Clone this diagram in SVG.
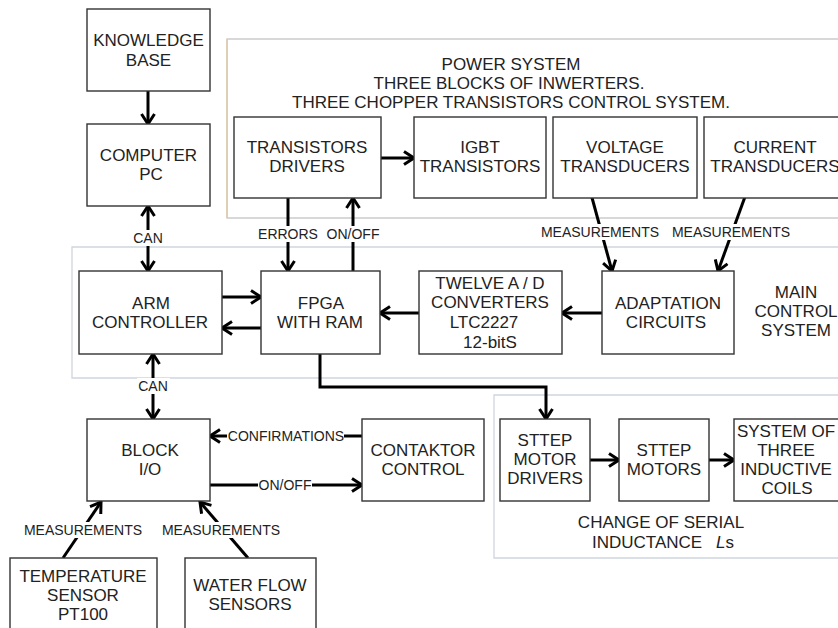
<svg xmlns="http://www.w3.org/2000/svg" width="838" height="628" viewBox="0 0 838 628">
<defs>
<style>
.box{fill:#fff;stroke:#333;stroke-width:1.4}
.t{font-family:"Liberation Sans",Arial,sans-serif;font-size:17px;fill:#222;text-anchor:middle}
.l{font-family:"Liberation Sans",Arial,sans-serif;font-size:14px;fill:#222;text-anchor:middle}
.c{fill:none;stroke:#000;stroke-width:3}
.bg{fill:#fff}
</style>
<marker id="ah" markerUnits="userSpaceOnUse" viewBox="0 0 14 16" markerWidth="14" markerHeight="16" refX="12" refY="8" orient="auto">
<path d="M2,1.5 L12,8 L2,14.5" fill="none" stroke="#000" stroke-width="3"/>
</marker>
<marker id="as" markerUnits="userSpaceOnUse" viewBox="0 0 14 16" markerWidth="14" markerHeight="16" refX="12" refY="8" orient="auto-start-reverse">
<path d="M2,1.5 L12,8 L2,14.5" fill="none" stroke="#000" stroke-width="3"/>
</marker>
</defs>
<rect width="838" height="628" fill="#fff"/>

<g id="frames">
<path d="M850,39 H227 V218 H850" fill="none" stroke="#cccccc" stroke-width="1.3"/>
<line x1="227" y1="39" x2="227" y2="218" stroke="#e2c8a4" stroke-width="1.3"/>
<path d="M850,247 H72 V378 H850" fill="none" stroke="#cfd6de" stroke-width="1.3"/>
<path d="M850,395 H494 V558 H850" fill="none" stroke="#cfd6de" stroke-width="1.3"/>
<text class="t" x="511" y="70">POWER SYSTEM</text>
<text class="t" x="509" y="89">THREE BLOCKS OF INWERTERS.</text>
<text class="t" x="511" y="108">THREE CHOPPER TRANSISTORS CONTROL SYSTEM.</text>
<text class="t" x="796" y="298">MAIN</text>
<text class="t" x="796" y="317">CONTROL</text>
<text class="t" x="796" y="336">SYSTEM</text>
<text class="t" x="661" y="528">CHANGE OF SERIAL</text>
<text class="t" x="663" y="548">INDUCTANCE<tspan dx="14" font-style="italic">L</tspan>s</text>
</g>

<g id="connectors">
<line class="c" x1="148" y1="91" x2="148" y2="124" marker-end="url(#ah)"/>
<line class="c" x1="148" y1="206" x2="148" y2="271" marker-start="url(#as)" marker-end="url(#ah)"/>
<line class="c" x1="381" y1="158" x2="414" y2="158" marker-end="url(#ah)"/>
<line class="c" x1="288" y1="198" x2="288" y2="271" marker-end="url(#ah)"/>
<line class="c" x1="353" y1="271" x2="353" y2="198" marker-end="url(#ah)"/>
<line class="c" x1="591" y1="194" x2="612" y2="271" marker-end="url(#ah)"/>
<line class="c" x1="746" y1="194" x2="718" y2="271" marker-end="url(#ah)"/>
<line class="c" x1="222" y1="297" x2="261" y2="297" marker-end="url(#ah)"/>
<line class="c" x1="261" y1="328" x2="222" y2="328" marker-end="url(#ah)"/>
<line class="c" x1="419" y1="313" x2="380" y2="313" marker-end="url(#ah)"/>
<line class="c" x1="602" y1="313" x2="562" y2="313" marker-end="url(#ah)"/>
<polyline class="c" points="320,354 320,387 546,387 546,419" marker-end="url(#ah)"/>
<line class="c" x1="153" y1="354" x2="153" y2="419" marker-start="url(#as)" marker-end="url(#ah)"/>
<line class="c" x1="362" y1="436" x2="210" y2="436" marker-end="url(#ah)"/>
<line class="c" x1="210" y1="485" x2="362" y2="485" marker-end="url(#ah)"/>
<line class="c" x1="63" y1="558" x2="101" y2="502" marker-end="url(#ah)"/>
<line class="c" x1="248" y1="558" x2="200" y2="502" marker-end="url(#ah)"/>
<line class="c" x1="590" y1="460" x2="619" y2="460" marker-end="url(#ah)"/>
<line class="c" x1="709" y1="460" x2="734" y2="460" marker-end="url(#ah)"/>
<rect class="bg" x="132" y="230" width="33" height="16"/>
<text class="l" x="148" y="243">CAN</text>
<rect class="bg" x="257" y="226" width="62" height="16"/>
<text class="l" x="288" y="239">ERRORS</text>
<rect class="bg" x="326" y="226" width="54" height="16"/>
<text class="l" x="353" y="239">ON/OFF</text>
<rect class="bg" x="540" y="224" width="120" height="16"/>
<text class="l" x="600" y="237">MEASUREMENTS</text>
<rect class="bg" x="671" y="224" width="120" height="16"/>
<text class="l" x="731" y="237">MEASUREMENTS</text>
<rect class="bg" x="137" y="378" width="33" height="16"/>
<text class="l" x="153" y="391">CAN</text>
<rect class="bg" x="227" y="428" width="117" height="16"/>
<text class="l" x="286" y="441">CONFIRMATIONS</text>
<rect class="bg" x="258" y="477" width="54" height="16"/>
<text class="l" x="285" y="490">ON/OFF</text>
<rect class="bg" x="23" y="522" width="120" height="16"/>
<text class="l" x="83" y="535">MEASUREMENTS</text>
<rect class="bg" x="161" y="522" width="120" height="16"/>
<text class="l" x="221" y="535">MEASUREMENTS</text>
</g>

<g id="knowledge"><rect class="box" x="87" y="9" width="123" height="82"/>
<text class="t" x="148.5" y="46">KNOWLEDGE</text><text class="t" x="148.5" y="66">BASE</text></g>
<g id="computer"><rect class="box" x="87" y="124" width="123" height="82"/>
<text class="t" x="148.5" y="161">COMPUTER</text><text class="t" x="151" y="180">PC</text></g>
<g id="tdrivers"><rect class="box" x="234" y="117" width="147" height="81"/>
<text class="t" x="307" y="153">TRANSISTORS</text><text class="t" x="307" y="172">DRIVERS</text></g>
<g id="igbt"><rect class="box" x="414" y="117" width="132" height="81"/>
<text class="t" x="480" y="153">IGBT</text><text class="t" x="480" y="172">TRANSISTORS</text></g>
<g id="voltage"><rect class="box" x="553" y="117" width="144" height="81"/>
<text class="t" x="625" y="153">VOLTAGE</text><text class="t" x="625" y="172">TRANSDUCERS</text></g>
<g id="current"><rect class="box" x="704" y="117" width="150" height="81"/>
<text class="t" x="775" y="153">CURRENT</text><text class="t" x="775" y="172">TRANSDUCERS</text></g>
<g id="arm"><rect class="box" x="79" y="271" width="143" height="83"/>
<text class="t" x="151" y="309">ARM</text><text class="t" x="150" y="328">CONTROLLER</text></g>
<g id="fpga"><rect class="box" x="261" y="271" width="119" height="83"/>
<text class="t" x="321" y="309">FPGA</text><text class="t" x="320" y="328">WITH RAM</text></g>
<g id="adc"><rect class="box" x="419" y="271" width="143" height="83"/>
<text class="t" x="490" y="289">TWELVE A / D</text><text class="t" x="490" y="308">CONVERTERS</text><text class="t" x="484" y="328">LTC2227</text><text class="t" x="490" y="348">12-bitS</text></g>
<g id="adaptation"><rect class="box" x="602" y="271" width="132" height="83"/>
<text class="t" x="668" y="309">ADAPTATION</text><text class="t" x="666" y="328">CIRCUITS</text></g>
<g id="blockio"><rect class="box" x="87" y="419" width="123" height="82"/>
<text class="t" x="150" y="456">BLOCK</text><text class="t" x="150" y="475">I/O</text></g>
<g id="contaktor"><rect class="box" x="362" y="419" width="122" height="82"/>
<text class="t" x="423" y="456">CONTAKTOR</text><text class="t" x="423" y="475">CONTROL</text></g>
<g id="stdrivers"><rect class="box" x="500" y="419" width="90" height="82"/>
<text class="t" x="545" y="446">STTEP</text><text class="t" x="545" y="465">MOTOR</text><text class="t" x="545" y="484">DRIVERS</text></g>
<g id="stmotors"><rect class="box" x="619" y="419" width="90" height="82"/>
<text class="t" x="664" y="456">STTEP</text><text class="t" x="664" y="475">MOTORS</text></g>
<g id="coils"><rect class="box" x="734" y="419" width="120" height="82"/>
<text class="t" x="786" y="437">SYSTEM OF</text><text class="t" x="786" y="456">THREE</text><text class="t" x="786" y="475">INDUCTIVE</text><text class="t" x="787" y="494">COILS</text></g>
<g id="temperature"><rect class="box" x="10" y="558" width="147" height="80"/>
<text class="t" x="83" y="582">TEMPERATURE</text><text class="t" x="83" y="601">SENSOR</text><text class="t" x="83" y="620">PT100</text></g>
<g id="waterflow"><rect class="box" x="185" y="558" width="131" height="80"/>
<text class="t" x="250" y="591">WATER FLOW</text><text class="t" x="250" y="610">SENSORS</text></g>
</svg>
